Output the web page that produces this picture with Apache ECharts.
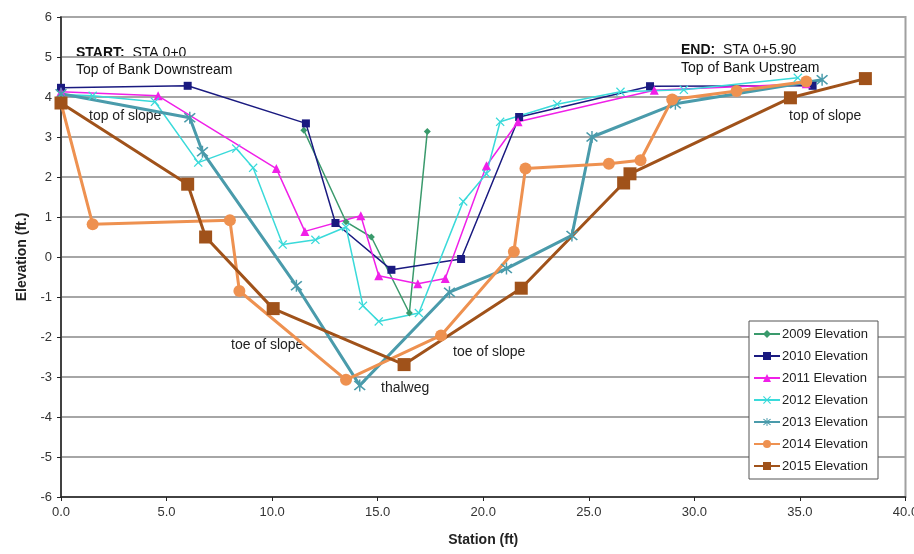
<!DOCTYPE html>
<html>
<head>
<meta charset="utf-8">
<script src="https://cdn.jsdelivr.net/npm/echarts@6/dist/echarts.min.js"></script>
<style>html,body{margin:0;padding:0;background:#fff}#c{width:914px;height:554px}</style>
</head>
<body>
<div id="c"></div>
<script>
// Station (ft), Elevation (ft.)
var elev2009 = [[11.5,3.17],[13.5,0.88],[14.7,0.5],[16.5,-1.4],[17.35,3.14]];
var elev2010 = [[0,4.23],[6.0,4.28],[11.6,3.34],[13.0,0.85],[15.65,-0.32],[18.95,-0.05],[21.7,3.5],[27.9,4.27],[35.6,4.28]];
var elev2011 = [[0,4.13],[4.6,4.03],[10.2,2.21],[11.55,0.64],[14.2,1.03],[15.05,-0.47],[16.9,-0.67],[18.2,-0.54],[20.15,2.28],[21.65,3.38],[28.1,4.17],[35.3,4.33]];
var elev2012 = [[0,4.06],[1.5,4.03],[4.45,3.88],[6.5,2.36],[8.3,2.71],[9.1,2.23],[10.5,0.31],[12.05,0.43],[13.5,0.75],[14.3,-1.22],[15.05,-1.61],[16.95,-1.4],[19.05,1.39],[20.15,2.08],[20.8,3.38],[23.5,3.82],[26.5,4.13],[29.5,4.18],[34.9,4.48]];
var elev2013 = [[0,4.08],[6.1,3.48],[6.7,2.63],[11.15,-0.72],[14.15,-3.21],[18.4,-0.88],[21.1,-0.29],[24.2,0.54],[25.15,3.0],[29.1,3.83],[36.05,4.43]];
var elev2014 = [[0,3.85],[1.5,0.82],[8.0,0.92],[8.45,-0.85],[13.5,-3.07],[18.0,-1.96],[21.45,0.13],[22.0,2.21],[25.95,2.33],[27.45,2.42],[28.95,3.94],[32.0,4.15],[35.3,4.39]];
var elev2015 = [[0,3.85],[6.0,1.82],[6.85,0.5],[10.05,-1.29],[16.25,-2.69],[21.8,-0.78],[26.65,1.85],[26.95,2.08],[34.55,3.98],[38.1,4.46]];
var seriesNames = ['2009 Elevation','2010 Elevation','2011 Elevation','2012 Elevation','2013 Elevation','2014 Elevation','2015 Elevation'];
var xTicks = {min: 0, max: 40, step: 5};
var yTicks = {min: -6, max: 6, step: 1};

var FONT = '"Liberation Sans", Arial, sans-serif';
var crossPath = 'path://M1,0 L5,4 L9,0 L10,1 L6,5 L10,9 L9,10 L5,6 L1,10 L0,9 L4,5 L0,1 Z';
var starPath = 'path://M1,0 L5,4 L9,0 L10,1 L6,5 L10,9 L9,10 L5,6 L1,10 L0,9 L4,5 L0,1 Z M4.4,-1 L5.6,-1 L5.6,11 L4.4,11 Z';

function mk(name, data, color, width, symbol, size) {
  return {
    name: name, type: 'line', data: data, symbol: symbol, symbolSize: size,
    showSymbol: true, animation: false,
    lineStyle: {color: color, width: width},
    itemStyle: {color: color, borderColor: color, borderWidth: 0}
  };
}

var chart = echarts.init(document.getElementById('c'));
chart.setOption({
  backgroundColor: '#fff',
  animation: false,
  textStyle: {fontFamily: FONT},
  grid: {left: 61, right: 8.5, top: 17, bottom: 57, show: true, borderColor: '#a0a0a0', borderWidth: 2, containLabel: false, outerBoundsMode: 'none'},
  xAxis: {
    type: 'value', min: xTicks.min, max: xTicks.max, interval: xTicks.step,
    name: 'Station (ft)', nameLocation: 'middle', nameGap: 36,
    nameTextStyle: {fontFamily: FONT, fontSize: 14, fontWeight: 'bold', color: '#222'},
    axisLine: {show: true, onZero: false, lineStyle: {color: '#222', width: 1.5}},
    axisTick: {show: true, length: 4, lineStyle: {color: '#222'}},
    axisLabel: {fontFamily: FONT, fontSize: 13, color: '#333', margin: 9, formatter: function(v){return v.toFixed(1);}},
    splitLine: {show: false}
  },
  yAxis: {
    type: 'value', min: yTicks.min, max: yTicks.max, interval: yTicks.step,
    name: 'Elevation (ft.)', nameLocation: 'middle', nameGap: 31, nameRotate: 90,
    nameTextStyle: {fontFamily: FONT, fontSize: 14, fontWeight: 'bold', color: '#222'},
    axisLine: {show: true, onZero: false, lineStyle: {color: '#222', width: 1.5}},
    axisTick: {show: true, length: 4, lineStyle: {color: '#222'}},
    axisLabel: {fontFamily: FONT, fontSize: 13, color: '#333', margin: 9},
    splitLine: {show: true, lineStyle: {color: '#a6a6a6', width: 2}}
  },
  legend: {
    orient: 'vertical', left: 749, top: 321,
    itemWidth: 26, itemHeight: 10, itemGap: 6,
    padding: [5, 10, 5, 4],
    backgroundColor: '#fff', borderColor: '#555', borderWidth: 1,
    textStyle: {fontFamily: FONT, fontSize: 13, lineHeight: 16, color: '#222', padding: [0,0,0,-3]},
    data: seriesNames
  },
  series: [
    mk(seriesNames[0], elev2009, '#3a9a6c', 1.5, 'diamond', 7),
    mk(seriesNames[1], elev2010, '#1a1a80', 1.5, 'rect', 8),
    mk(seriesNames[2], elev2011, '#f020e8', 1.5, 'triangle', 9),
    mk(seriesNames[3], elev2012, '#3adada', 1.5, crossPath, 9),
    mk(seriesNames[4], elev2013, '#4a9bab', 3, starPath, 12),
    mk(seriesNames[5], elev2014, '#ee9150', 3, 'circle', 12),
    mk(seriesNames[6], elev2015, '#a0521a', 3, 'rect', 13)
  ],
  graphic: [
    {type: 'text', left: 76, top: 46, style: {text: '{b|START:}  STA 0+0', fontFamily: FONT, fontSize: 14, fill: '#111', rich: {b: {fontWeight: 'bold', fontFamily: FONT, fontSize: 14}}}},
    {type: 'text', left: 76, top: 63, style: {text: 'Top of Bank Downstream', fontFamily: FONT, fontSize: 14, fill: '#111'}},
    {type: 'text', left: 89, top: 109, style: {text: 'top of slope', fontFamily: FONT, fontSize: 14, fill: '#222'}},
    {type: 'text', left: 231, top: 338, style: {text: 'toe of slope', fontFamily: FONT, fontSize: 14, fill: '#222'}},
    {type: 'text', left: 381, top: 381, style: {text: 'thalweg', fontFamily: FONT, fontSize: 14, fill: '#222'}},
    {type: 'text', left: 453, top: 345, style: {text: 'toe of slope', fontFamily: FONT, fontSize: 14, fill: '#222'}},
    {type: 'text', left: 681, top: 43, style: {text: '{b|END:}  STA 0+5.90', fontFamily: FONT, fontSize: 14, fill: '#111', rich: {b: {fontWeight: 'bold', fontFamily: FONT, fontSize: 14}}}},
    {type: 'text', left: 681, top: 61, style: {text: 'Top of Bank Upstream', fontFamily: FONT, fontSize: 14, fill: '#111'}},
    {type: 'text', left: 789, top: 109, style: {text: 'top of slope', fontFamily: FONT, fontSize: 14, fill: '#222'}}
  ]
});
</script>
</body>
</html>
